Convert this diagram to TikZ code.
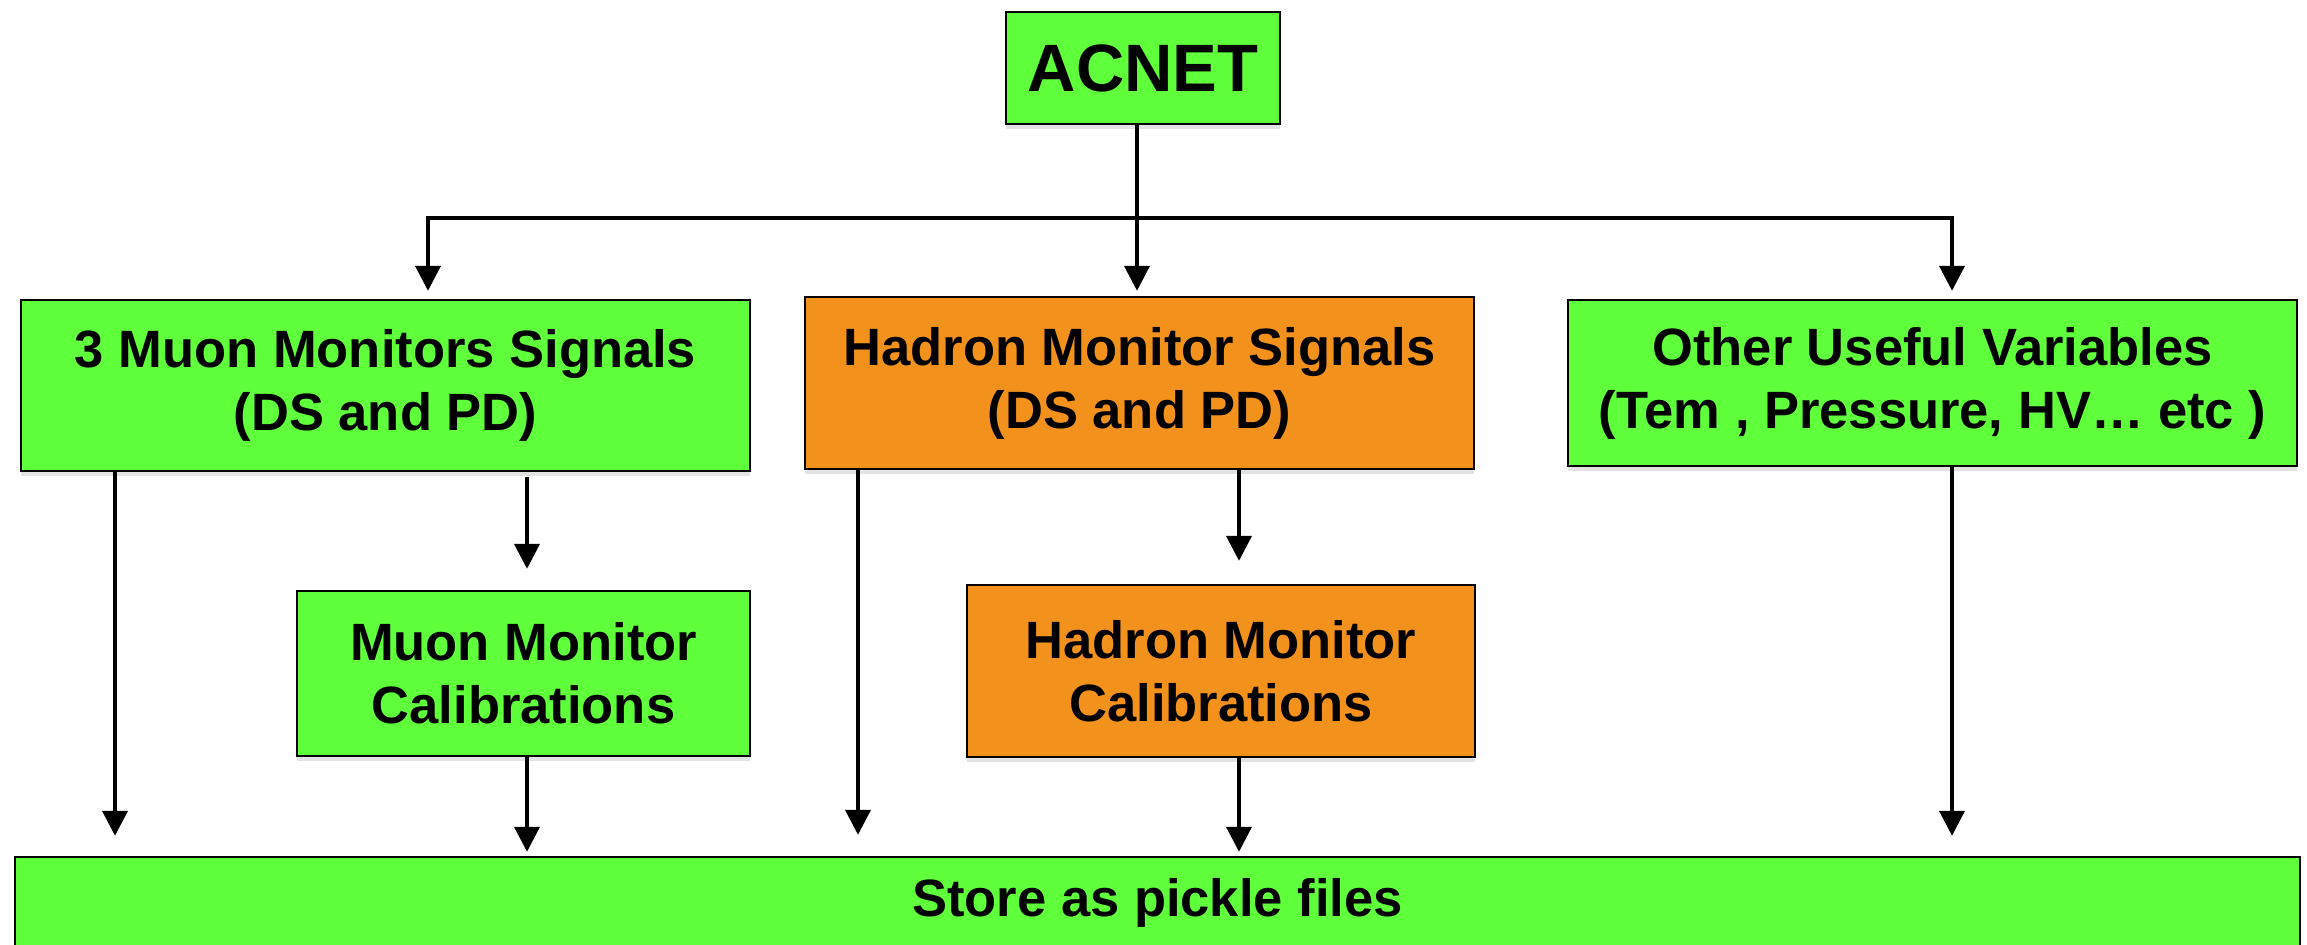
\documentclass[tikz,border=0pt]{standalone}
\usepackage{fontspec}
\setmainfont{Liberation Sans}
\usetikzlibrary{arrows.meta,shadows}
\definecolor{boxgreen}{RGB}{96,255,60}
\definecolor{boxorange}{RGB}{242,145,28}
\begin{document}
\begin{tikzpicture}[x=0.5pt,y=-0.5pt,
  box/.style={draw=black, line width=1.2pt, align=center, inner sep=0pt,
    font=\bfseries\fontsize{26.25}{31.5}\selectfont,
    drop shadow={opacity=0.22, shadow xshift=0pt, shadow yshift=-2.5pt}},
  gbox/.style={box, fill=boxgreen},
  obox/.style={box, fill=boxorange},
  conn/.style={line width=2pt},
  arr/.style={conn, -{Triangle[length=12.5pt,width=12.5pt]}}]
\useasboundingbox (0,0) rectangle (2307,945);

% nodes
\node[gbox, minimum width=137pt, minimum height=56pt, font=\bfseries\fontsize{33.5}{40}\selectfont] (acnet) at (1143,68) {ACNET};
\node[gbox, minimum width=364.5pt, minimum height=85.5pt] (muon) at (385.5,385.5) {3 Muon Monitors Signals\\(DS and PD)};
\node[obox, minimum width=334.5pt, minimum height=86pt] (hadron) at (1139.5,383) {Hadron Monitor Signals\\(DS and PD)};
\node[gbox, minimum width=364.5pt, minimum height=83pt] (other) at (1932.5,383) {Other Useful Variables\\(Tem , Pressure, HV… etc )};
\node[gbox, minimum width=226.5pt, minimum height=82.5pt] (mcal) at (523.5,673.5) {Muon Monitor\\Calibrations};
\node[obox, minimum width=254pt, minimum height=86pt] (hcal) at (1221,671) {Hadron Monitor\\Calibrations};
\node[gbox, minimum width=1142.5pt, minimum height=46pt] (store) at (1157.5,903) {Store as pickle files};

% x positions of connectors
\coordinate (busy) at (0,218);
\coordinate (xA) at (1137,0);
\coordinate (xM) at (428,0);
\coordinate (xO) at (1952,0);
\coordinate (xM1) at (115,0);
\coordinate (xM2) at (527,0);
\coordinate (xH1) at (858,0);
\coordinate (xH2) at (1239,0);

% connectors
\draw[conn] (acnet.south -| xA) -- (busy -| xA);
\draw[conn, line cap=rect] (busy -| xM) -- (busy -| xO);
\draw[arr, shorten >=4pt] (busy -| xM) -- (muon.north -| xM);
\draw[arr, shorten >=2.5pt] (busy -| xA) -- (hadron.north -| xA);
\draw[arr, shorten >=4pt] (busy -| xO) -- (other.north -| xO);

\draw[arr, shorten <=2.5pt, shorten >=10.5pt] (muon.south -| xM2) -- (mcal.north -| xM2);
\draw[arr, shorten >=11.5pt] (hadron.south -| xH2) -- (hcal.north -| xH2);

\draw[arr, shorten >=10pt] (muon.south -| xM1) -- (store.north -| xM1);
\draw[arr, shorten >=2pt] (mcal.south -| xM2) -- (store.north -| xM2);
\draw[arr, shorten >=10.5pt] (hadron.south -| xH1) -- (store.north -| xH1);
\draw[arr, shorten >=2pt] (hcal.south -| xH2) -- (store.north -| xH2);
\draw[arr, shorten >=10pt] (other.south -| xO) -- (store.north -| xO);
\end{tikzpicture}
\end{document}
